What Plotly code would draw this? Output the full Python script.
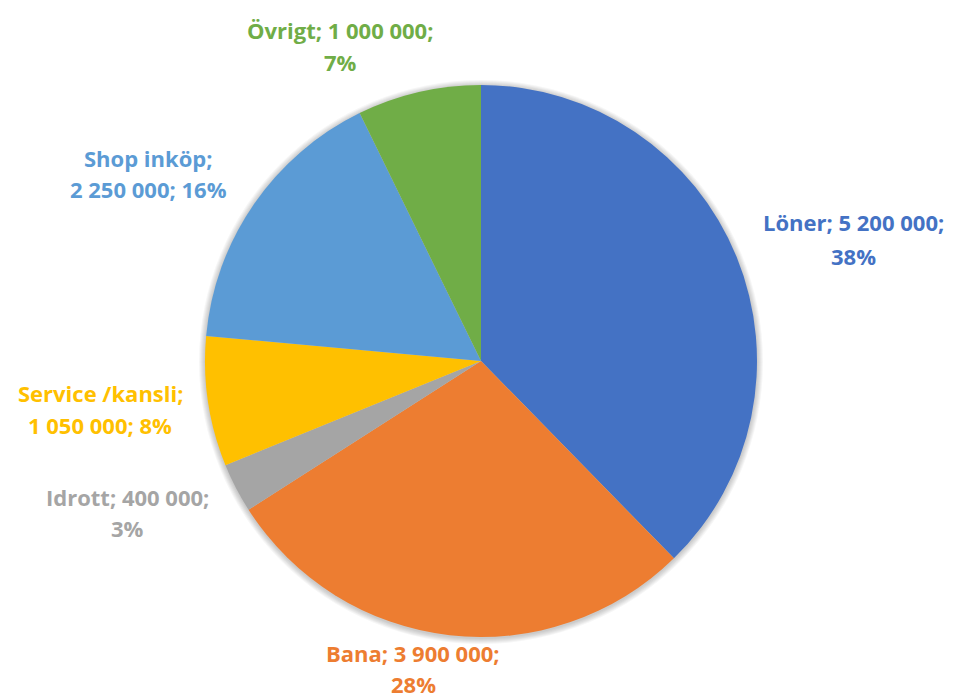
import plotly.graph_objects as go

# Data
categories = ["Löner", "Bana", "Idrott", "Service /kansli", "Shop inköp", "Övrigt"]
values = [5200000, 3900000, 400000, 1050000, 2250000, 1000000]
colors = ["#4472C4", "#ED7D31", "#A5A5A5", "#FFC000", "#5B9BD5", "#70AD47"]

W, H = 953, 699
OFF = 8  # page offset of the plot inside the browser window
cx, cy, r = 481 - OFF, 361 - OFF, 276

# label placement: (x center, y of line 1, y of line 2) in picture pixels
label_pos = [(853, 222, 256), (413, 653, 684), (127, 497, 528),
             (100, 393, 425), (148, 158, 189), (340, 30, 62)]
break_after_label = [False, False, False, True, True, False]

total = sum(values)

def fmt(v):
    return f"{v:,}".replace(",", " ")

fig = go.Figure()
fig.add_trace(go.Pie(
    labels=categories,
    values=values,
    sort=False,
    direction="clockwise",
    rotation=0,
    marker=dict(colors=colors, line=dict(width=0)),
    textinfo="none",
    hoverinfo="label+value+percent",
    showlegend=False,
    domain=dict(x=[(cx - r) / W, (cx + r) / W], y=[1 - (cy + r) / H, 1 - (cy - r) / H]),
))

# soft shadow around the pie
shapes = []
for k in range(1, 7):
    rr = r + k
    shapes.append(dict(
        type="circle", xref="paper", yref="paper", layer="below",
        x0=(cx - rr) / W, x1=(cx + rr) / W,
        y0=1 - (cy + rr + 1) / H, y1=1 - (cy - rr + 1) / H,
        fillcolor="rgba(0,0,0,0.035)", line=dict(width=0),
    ))

for cat, v, col, (lx, y1, y2), br in zip(categories, values, colors, label_pos, break_after_label):
    pct = round(100 * v / total)
    if br:
        lines = [f"{cat};", f"{fmt(v)}; {pct}%"]
    else:
        lines = [f"{cat}; {fmt(v)};", f"{pct}%"]
    for t, ly in zip(lines, (y1, y2)):
        fig.add_annotation(
            x=(lx - OFF) / W, y=1 - (ly - OFF) / H, xref="paper", yref="paper",
            text=f"<b>{t}</b>", showarrow=False,
            font=dict(family="Open Sans, sans-serif", size=22, color=col),
            align="center", xanchor="center", yanchor="middle",
        )

fig.update_layout(
    width=W, height=H,
    margin=dict(l=0, r=0, t=0, b=0),
    paper_bgcolor="white", plot_bgcolor="white",
    shapes=shapes,
)

fig.write_html("out.html")
